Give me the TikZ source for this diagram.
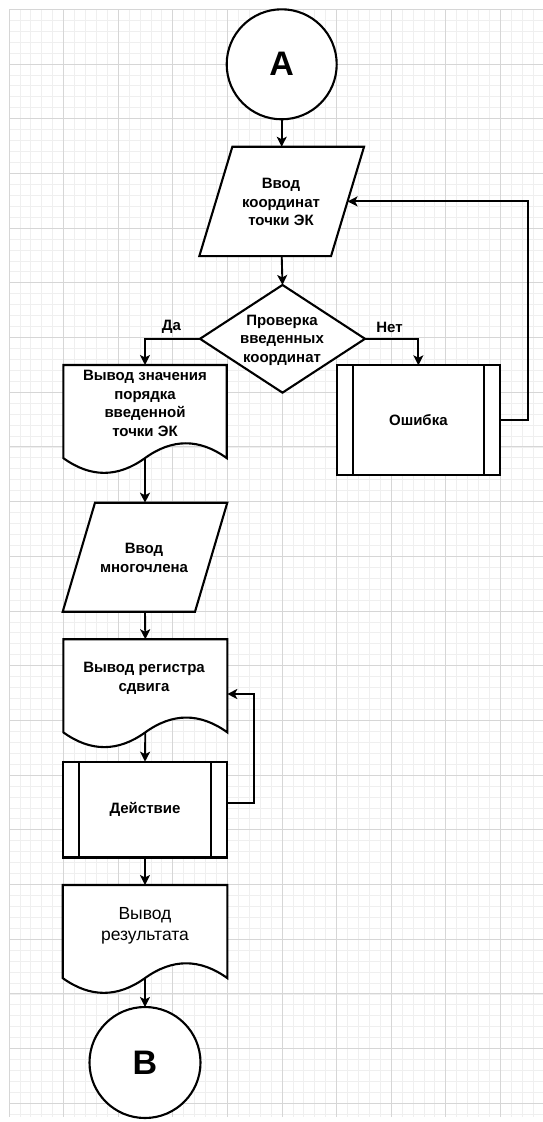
\documentclass[tikz,border=0pt]{standalone}
\usepackage{fontspec}
\setmainfont{Liberation Sans}
\usetikzlibrary{arrows.meta,calc,shapes.geometric}
\definecolor{gridmajor}{RGB}{214,214,214}
\definecolor{gridminor}{RGB}{239,239,239}

\newcommand{\parashape}[2]{%
  \draw[outline] (#1.south west) -- ([xshift=-#2pt]#1.south east) -- (#1.north east) -- ([xshift=#2pt]#1.north west) -- cycle;
  \coordinate (#1-r) at ($(#1.north east)!0.5!([xshift=-#2pt]#1.south east)$);}

\newcommand{\docshape}[3]{%
  \begin{scope}[shift={(#1.north west)}]
    \draw[outline] (0,0) -- (#2,0) -- (#2,{0.85*#3})
      .. controls ({0.8333*#2},{0.67*#3}) and ({0.6667*#2},{0.67*#3}) .. ({0.5*#2},{0.85*#3})
      .. controls ({0.3333*#2},{1.03*#3}) and ({0.1667*#2},{1.03*#3}) .. (0,{0.85*#3}) -- cycle;
    \coordinate (#1-b) at ({0.5*#2},{0.85*#3});
  \end{scope}}

\newcommand{\predefbars}[2]{%
  \draw[line width=2.1pt] ([xshift=#2pt]#1.north west) -- ([xshift=#2pt]#1.south west);
  \draw[line width=2.1pt] ([xshift=-#2pt]#1.north east) -- ([xshift=-#2pt]#1.south east);}

\begin{document}
\begin{tikzpicture}[x=1pt,y=-1pt,
  outline/.style={draw=black, line width=2.1pt, fill=white, line join=miter},
  frame/.style={inner sep=0pt, outer sep=0pt, draw=none},
  lbl/.style={font=\bfseries\fontsize{15}{18.4}\selectfont, align=center, inner sep=0pt},
  biglbl/.style={font=\fontsize{17.5}{21}\selectfont, align=center, inner sep=0pt},
  conn/.style={draw=black, line width=1.9pt, -{Stealth[length=10pt,width=10pt,inset=2.5pt]}},
  term/.style={circle, draw=black, line width=2.1pt, fill=white, inner sep=0pt, outer sep=0pt,
     font=\bfseries\fontsize{34}{40}\selectfont}
]
\useasboundingbox (0,0) rectangle (543,1122);
\fill[white] (0,0) rectangle (543,1122);

% grid
\foreach \i in {0,...,48} {\draw[gridminor, line width=0.8pt] ({9+\i*10.92},9.3) -- ({9+\i*10.92},1117);}
\foreach \j in {0,...,101} {\draw[gridminor, line width=0.8pt] (9,{9.3+\j*10.94}) -- (543,{9.3+\j*10.94});}
\foreach \i in {0,...,9} {\draw[gridmajor, line width=1pt] ({9+\i*54.6},9.3) -- ({9+\i*54.6},1117);}
\foreach \j in {0,...,20} {\draw[gridmajor, line width=1pt] (9,{9.3+\j*54.7}) -- (543,{9.3+\j*54.7});}

% nodes
\node[term, minimum size=110pt] (A) at (281.7,64.3) {A};

\node[frame, minimum width=164.7pt, minimum height=109.3pt] (P1) at (281.7,201.4) {};
\parashape{P1}{33}
\node[lbl] (P1t) at (281,202) {Ввод\\координат\\точки ЭК};

\node[diamond, draw=black, line width=2.1pt, fill=white, inner sep=0pt, outer sep=0pt,
      minimum width=165pt, minimum height=107.7pt] (D1) at (282.5,338.8) {};
\node[lbl] (D1t) at (282,340) {Проверка\\введенных\\координат};

\node[frame, minimum width=163.4pt, minimum height=109.5pt] (Doc1) at (145,419.75) {};
\docshape{Doc1}{163.4}{109.5}
\node[lbl] (Doc1t) at (145,403.5) {Вывод значения\\порядка\\введенной\\точки ЭК};

\node[frame, outline, minimum width=163.3pt, minimum height=109.4pt, lbl] (E) at (418.35,420) {Ошибка};
\predefbars{E}{16}

\node[frame, minimum width=164.6pt, minimum height=109pt] (P2) at (145,557.2) {};
\parashape{P2}{32.3}
\node[lbl] (P2t) at (144,558) {Ввод\\многочлена};

\node[frame, minimum width=164pt, minimum height=109.5pt] (Doc2) at (145.3,694) {};
\docshape{Doc2}{164}{109.5}
\node[lbl] (Doc2t) at (144,678.5) {Вывод регистра\\сдвига};

\node[frame, outline, minimum width=164pt, minimum height=95.8pt, lbl] (S) at (145,809.6) {Действие};
\predefbars{S}{16.3}

\node[frame, minimum width=164.6pt, minimum height=109.5pt] (Doc3) at (145,939.75) {};
\docshape{Doc3}{164.6}{109.5}
\node[biglbl] (Doc3t) at (145,925.5) {Вывод\\результата};

\node[term, minimum size=111pt] (B) at (145,1062.5) {B};

% labels
\node[lbl] (da) at (171.4,327.1) {Да};
\node[lbl] (net) at (389.5,327) {Нет};

% connectors
\draw[conn] (A.south) -- (P1.north);
\draw[conn] (P1.south) -- (D1.north);
\draw[conn] (D1.west) -| (Doc1.north);
\draw[conn] (D1.east) -| (E.north);
\draw[conn] (E.east) -- ++(28.3,0) |- (P1-r);
\draw[conn] (Doc1-b) -- (P2.north);
\draw[conn] (P2.south) -- (Doc2.north);
\draw[conn] (Doc2-b) -- (S.north);
\draw[conn] ([yshift=6.8pt]S.east) -- ++(27,0) |- (Doc2.east);
\draw[conn] (S.south) -- (Doc3.north);
\draw[conn] (Doc3-b) -- (B.north);
\end{tikzpicture}
\end{document}
